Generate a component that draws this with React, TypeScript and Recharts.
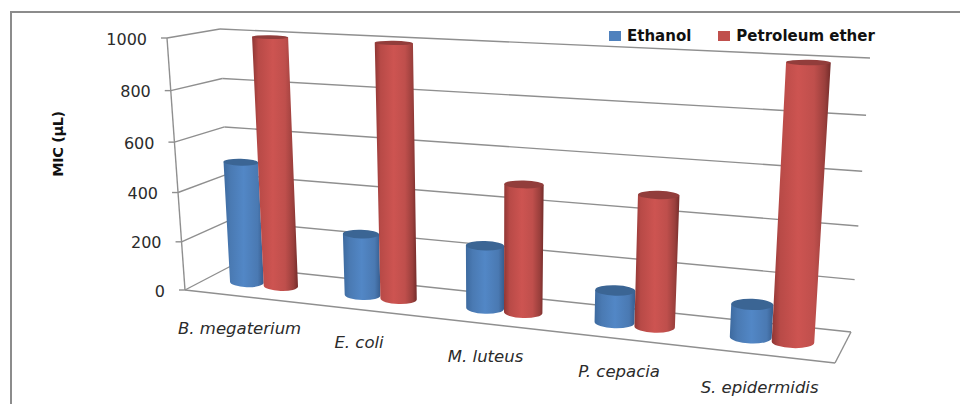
import React from "react";
import {
  BarChart,
  Bar,
  XAxis,
  YAxis,
  CartesianGrid,
  Legend,
} from "recharts";

const categories = [
  "B. megaterium",
  "E. coli",
  "M. luteus",
  "P. cepacia",
  "S. epidermidis",
];
const ethanol = [500, 250, 250, 125, 125];
const petroleumEther = [1000, 1000, 500, 500, 1000];
const yTicks = [0, 200, 400, 600, 800, 1000];

const data = categories.map((name, i) => ({
  name,
  ethanol: ethanol[i],
  petroleumEther: petroleumEther[i],
}));

const WIDTH = 960;
const HEIGHT = 404;
const AXIS_SIZE = 1; // axes draw nothing at size 0
// the flat plot recharts works in, everything is projected from here
const MARGIN = { top: 50, right: 80, bottom: 54 - AXIS_SIZE, left: 80 - AXIS_SIZE };
const PLOT_LEFT = 80;
const PLOT_W = WIDTH - 160;
const PLOT_H = HEIGHT - 104;
const PLOT_BOTTOM = HEIGHT - 54;

const GRID = "#8f8f8f";
const TEXT = "#2b2b2b";

type Pt = { x: number; y: number };

// box corners on screen: f = front, b = back, 0 = floor, 1 = top, L/R = side
const f0L = { x: 185, y: 290 };
const f1L = { x: 167, y: 38 };
const b0L = { x: 231, y: 266 };
const b1L = { x: 220, y: 29 };
const f0R = { x: 835, y: 363 };
const f1R = { x: 852, y: 72 };
const b0R = { x: 851, y: 332 };
const b1R = { x: 870, y: 58 };

const mix = (a: Pt, b: Pt, t: number): Pt => ({
  x: a.x + (b.x - a.x) * t,
  y: a.y + (b.y - a.y) * t,
});

// u along categories, v up the value axis, d front to back (all 0..1)
function project(u: number, v: number, d: number): Pt {
  const w = u + 0.135 * u * (u - 1); // nearer categories are wider apart
  const h = v - 0.055 * v * (1 - v); // upper gridlines are a bit further apart
  const front = mix(mix(f0L, f0R, w), mix(f1L, f1R, w), h);
  const back = mix(mix(b0L, b0R, w), mix(b1L, b1R, w), h);
  return mix(front, back, d);
}

const toU = (x: number) => (x - PLOT_LEFT) / PLOT_W;
const toV = (y: number) => (PLOT_BOTTOM - y) / PLOT_H;
const line = (a: Pt, b: Pt) => (
  <line x1={a.x} y1={a.y} x2={b.x} y2={b.y} stroke={GRID} strokeWidth={1.4} />
);

const COLORS: Record<string, { grad: string; top: string }> = {
  "#4f81bd": { grad: "url(#blueBody)", top: "#3b6594" },
  "#c0504d": { grad: "url(#redBody)", top: "#923d3b" },
};

const DEPTH = 0.5;
const RADIUS = 0.2;
const TILT = 0.3; // ellipses sit flatter than the floor lines

// one cross-section of a cylinder: end points, radii and rotation
function section(uc: number, hw: number, v: number) {
  const c = project(uc, v, DEPTH);
  const a = project(uc - hw, v, DEPTH);
  const b = project(uc + hw, v, DEPTH);
  const hx = (b.x - a.x) / 2;
  const hy = ((b.y - a.y) / 2) * TILT;
  const ry = (project(uc, v, DEPTH - RADIUS).y - project(uc, v, DEPTH + RADIUS).y) / 2;
  return {
    L: { x: c.x - hx, y: c.y - hy },
    R: { x: c.x + hx, y: c.y + hy },
    rx: Math.hypot(hx, hy),
    ry,
    rot: (Math.atan2(hy, hx) * 180) / Math.PI,
  };
}

const Cylinder = (props: any) => {
  const { x, y, width, height, fill } = props;
  const uc = toU(x + width / 2);
  const hw = width / 2 / PLOT_W;
  const base = section(uc, hw, toV(y + height));
  const top = section(uc, hw, toV(y));

  const body =
    `M${top.L.x} ${top.L.y} L${base.L.x} ${base.L.y} ` +
    `A${base.rx} ${base.ry} ${base.rot} 0 0 ${base.R.x} ${base.R.y} ` +
    `L${top.R.x} ${top.R.y} Z`;
  const cap =
    `M${top.L.x} ${top.L.y} A${top.rx} ${top.ry} ${top.rot} 0 1 ${top.R.x} ${top.R.y} ` +
    `A${top.rx} ${top.ry} ${top.rot} 0 1 ${top.L.x} ${top.L.y} Z`;

  return (
    <g>
      <path d={body} fill={COLORS[fill].grad} />
      <path d={cap} fill={COLORS[fill].top} />
    </g>
  );
};

const GridLine = (props: any) => {
  const v = toV(props.y1);
  return (
    <g key={props.key}>
      {line(project(0, v, 0), project(0, v, 1))}
      {line(project(0, v, 1), project(1, v, 1))}
    </g>
  );
};

const YTick = (props: any) => {
  const v = toV(props.payload.coordinate);
  const p = project(0, v, 0);
  return (
    <g>
      {line({ x: p.x - 6, y: p.y }, p)}
      <text
        x={p.x - 20}
        y={p.y + 6.5}
        textAnchor="end"
        fontFamily="DejaVu Sans"
        fontSize={16}
        fill={TEXT}
      >
        {props.payload.value}
      </text>
    </g>
  );
};

const XTick = (props: any) => {
  const u = toU(props.payload.coordinate);
  const p = project(u, 0, 0);
  return (
    <text
      x={p.x - 2.5}
      y={p.y + 38}
      textAnchor="middle"
      fontFamily="DejaVu Sans"
      fontStyle="italic"
      fontSize={16.5}
      fill={TEXT}
    >
      {props.payload.value}
    </text>
  );
};

const YTitle = () => (
  <text
    transform="translate(63 144) rotate(-90)"
    textAnchor="middle"
    fontFamily="DejaVu Sans"
    fontWeight="bold"
    fontSize={14.5}
    letterSpacing={-0.4}
    fill="#111"
  >
    MIC (µL)
  </text>
);

const LegendRow = ({ payload }: any) => (
  <div style={{ display: "flex", fontFamily: "DejaVu Sans", fontWeight: "bold", fontSize: 15, color: "#111" }}>
    {payload.map((entry: any, i: number) => (
      <div key={i} style={{ display: "flex", alignItems: "center", marginRight: 27 }}>
        <span style={{ width: 12, height: 10, background: entry.color, marginRight: 6, display: "inline-block" }} />
        {entry.value}
      </div>
    ))}
  </div>
);

export default function App() {
  return (
    <div style={{ position: "absolute", left: 0, top: 0 }}>
      <BarChart
        width={WIDTH}
        height={HEIGHT}
        data={data}
        margin={MARGIN}
        barSize={48}
        barGap={0}
      >
        <defs>
          <linearGradient id="blueBody" x1="0" y1="0" x2="1" y2="0">
            <stop offset="0%" stopColor="#3d6a9f" />
            <stop offset="18%" stopColor="#4a7ab3" />
            <stop offset="50%" stopColor="#5287c6" />
            <stop offset="85%" stopColor="#4a79b2" />
            <stop offset="100%" stopColor="#375d8e" />
          </linearGradient>
          <linearGradient id="redBody" x1="0" y1="0" x2="1" y2="0">
            <stop offset="0%" stopColor="#8f3634" />
            <stop offset="14%" stopColor="#b84a47" />
            <stop offset="45%" stopColor="#cd5451" />
            <stop offset="72%" stopColor="#bf4f4c" />
            <stop offset="90%" stopColor="#9a3f3c" />
            <stop offset="100%" stopColor="#742c2a" />
          </linearGradient>
        </defs>
        <rect x={11} y={12} width={WIDTH} height={HEIGHT} fill="none" stroke="#8c8c8c" strokeWidth={2} />
        <CartesianGrid horizontal={GridLine} vertical={false} />
        {line(f0L, f1L)}
        {line(f0L, f0R)}
        {line(f0R, b0R)}
        <XAxis
          dataKey="name"
          height={AXIS_SIZE}
          interval={0}
          axisLine={false}
          tickLine={false}
          tick={XTick}
        />
        <YAxis
          width={AXIS_SIZE}
          domain={[0, 1000]}
          ticks={yTicks}
          interval={0}
          axisLine={false}
          tickLine={false}
          tick={YTick}
          label={<YTitle />}
        />
        <Legend
          layout="horizontal"
          align="center"
          verticalAlign="middle"
          wrapperStyle={{ left: 609, top: 27, width: 320 }}
          content={<LegendRow />}
        />
        <Bar
          dataKey="ethanol"
          name="Ethanol"
          fill="#4f81bd"
          legendType="square"
          shape={Cylinder}
          isAnimationActive={false}
        />
        <Bar
          dataKey="petroleumEther"
          name="Petroleum ether"
          fill="#c0504d"
          legendType="square"
          shape={Cylinder}
          isAnimationActive={false}
        />
      </BarChart>
    </div>
  );
}
